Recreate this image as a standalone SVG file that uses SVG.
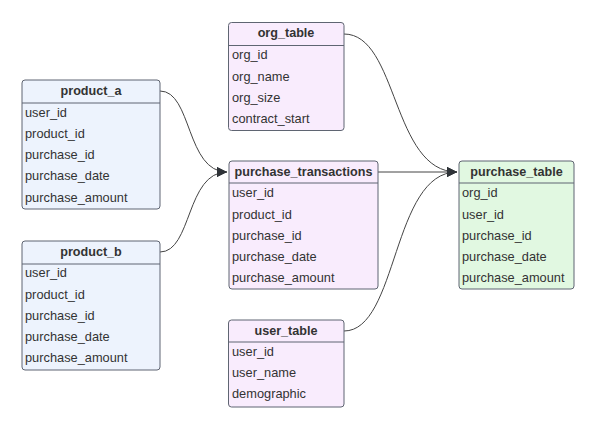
<svg xmlns="http://www.w3.org/2000/svg" width="598" height="429" viewBox="0 0 598 429">
<defs>
<style>
.box{stroke:#5f6572;stroke-width:1;}
.blue{fill:#edf3fd;}
.purple{fill:#f9ecfd;}
.green{fill:#e1f8e1;}
.sep{stroke:#5f6572;stroke-width:1;}
.h{font-family:"Liberation Sans",Arial,sans-serif;font-size:12.6px;font-weight:bold;fill:#333;text-anchor:middle;}
.r{font-family:"Liberation Sans",Arial,sans-serif;font-size:12.8px;fill:#333;}
.c{fill:none;stroke:#444;stroke-width:1;}
</style>
<marker id="arr" markerWidth="12" markerHeight="10" refX="10" refY="5" orient="auto" markerUnits="userSpaceOnUse">
<path d="M0,0 L10,5 L0,10 Z" fill="#2f3338"/>
</marker>
</defs>
<rect width="598" height="429" fill="#ffffff"/>
<g id="connectors">
<path class="c" d="M160,91 C192,91 186,172 227,172" marker-end="url(#arr)"/>
<path class="c" d="M160,252 C192,252 186,172 227,172" marker-end="url(#arr)"/>
<path class="c" d="M344,34 C398,34 392,172 457,172" marker-end="url(#arr)"/>
<path class="c" d="M378,172 L457,172" marker-end="url(#arr)"/>
<path class="c" d="M344,331 C398,331 392,172 457,172" marker-end="url(#arr)"/>
</g>
<g id="product_a">
<rect class="box blue" x="22" y="80" width="138" height="129" rx="3"/>
<line class="sep" x1="22" y1="103" x2="160" y2="103"/>
<text class="h" x="91" y="95">product_a</text>
<text class="r" x="25" y="116.7">user_id</text>
<text class="r" x="25" y="137.9">product_id</text>
<text class="r" x="25" y="159.1">purchase_id</text>
<text class="r" x="25" y="180.3">purchase_date</text>
<text class="r" x="25" y="201.5">purchase_amount</text>
</g>
<g id="product_b">
<rect class="box blue" x="22" y="241" width="138" height="129" rx="3"/>
<line class="sep" x1="22" y1="264" x2="160" y2="264"/>
<text class="h" x="91" y="256">product_b</text>
<text class="r" x="25" y="277.3">user_id</text>
<text class="r" x="25" y="298.5">product_id</text>
<text class="r" x="25" y="319.7">purchase_id</text>
<text class="r" x="25" y="340.9">purchase_date</text>
<text class="r" x="25" y="362.1">purchase_amount</text>
</g>
<g id="org_table">
<rect class="box purple" x="228.5" y="22.5" width="115.5" height="108" rx="3"/>
<line class="sep" x1="228.5" y1="45.5" x2="344" y2="45.5"/>
<text class="h" x="286" y="37">org_table</text>
<text class="r" x="232" y="59.3">org_id</text>
<text class="r" x="232" y="80.5">org_name</text>
<text class="r" x="232" y="101.7">org_size</text>
<text class="r" x="232" y="122.9">contract_start</text>
</g>
<g id="purchase_transactions">
<rect class="box purple" x="229" y="161" width="149" height="128" rx="3"/>
<line class="sep" x1="229" y1="183" x2="378" y2="183"/>
<text class="h" x="303.5" y="175.5">purchase_transactions</text>
<text class="r" x="232" y="197.3">user_id</text>
<text class="r" x="232" y="218.5">product_id</text>
<text class="r" x="232" y="239.7">purchase_id</text>
<text class="r" x="232" y="260.9">purchase_date</text>
<text class="r" x="232" y="282.1">purchase_amount</text>
</g>
<g id="purchase_table">
<rect class="box green" x="459" y="161" width="115" height="128" rx="3"/>
<line class="sep" x1="459" y1="183" x2="574" y2="183"/>
<text class="h" x="516.5" y="175.5">purchase_table</text>
<text class="r" x="462" y="197.3">org_id</text>
<text class="r" x="462" y="218.5">user_id</text>
<text class="r" x="462" y="239.7">purchase_id</text>
<text class="r" x="462" y="260.9">purchase_date</text>
<text class="r" x="462" y="282.1">purchase_amount</text>
</g>
<g id="user_table">
<rect class="box purple" x="228.5" y="320" width="115.5" height="87" rx="3"/>
<line class="sep" x1="228.5" y1="342" x2="344" y2="342"/>
<text class="h" x="286" y="334.5">user_table</text>
<text class="r" x="232" y="356">user_id</text>
<text class="r" x="232" y="377.2">user_name</text>
<text class="r" x="232" y="398.4">demographic</text>
</g>
</svg>
